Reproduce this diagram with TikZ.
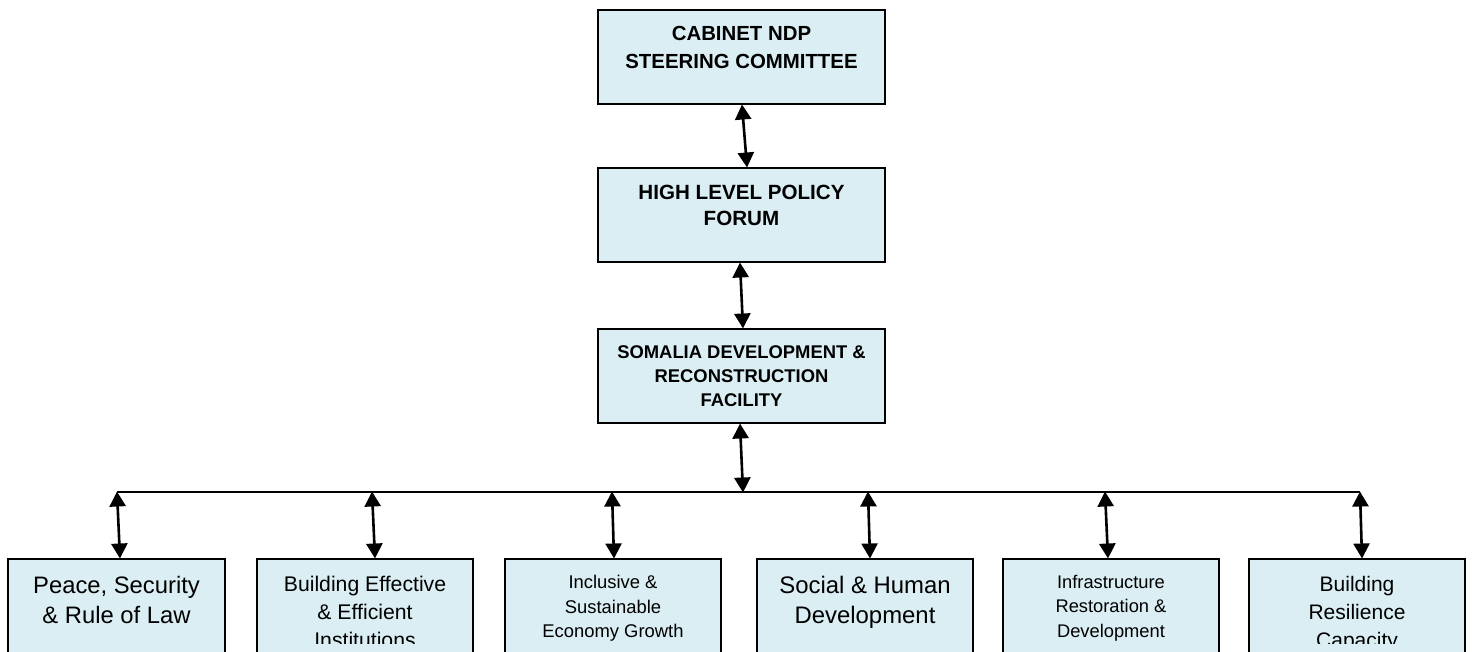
\documentclass[tikz,border=0pt]{standalone}
\usepackage{fontspec}
\setmainfont{Liberation Sans}
\usetikzlibrary{arrows.meta}
\definecolor{boxfill}{HTML}{DAEEF3}
\tikzset{
  box/.style={draw=black, line width=2pt, fill=boxfill, inner sep=0pt},
  lbl/.style={anchor=north, align=center, inner sep=0pt, text=black},
  arr/.style={line width=2.6pt, {Triangle[width=16pt,length=15pt]}-{Triangle[width=16pt,length=15pt]}, shorten <=-0.5pt, shorten >=-0.5pt},
  bus/.style={line width=2pt},
}
\begin{document}
\begin{tikzpicture}[x=1pt,y=-1pt]
\useasboundingbox (0,0) rectangle (1472,651);
\clip (0,0) rectangle (1472,651);
% top boxes
\node[box, minimum width=287pt, minimum height=94pt] (c) at (741.5,57) {};
\node[box, minimum width=287pt, minimum height=94pt] (h) at (741.5,215) {};
\node[box, minimum width=287pt, minimum height=94pt] (s) at (741.5,376) {};
\node[lbl, font=\fontsize{20.4}{28}\selectfont\bfseries] (tc) at (741.5,26) {CABINET NDP\\STEERING COMMITTEE};
\node[lbl, font=\fontsize{20.6}{26}\selectfont\bfseries] (th) at (741.5,185) {HIGH LEVEL POLICY\\FORUM};
\node[lbl, font=\fontsize{18.4}{24}\selectfont\bfseries] (ts) at (741.5,345) {SOMALIA DEVELOPMENT \&\\RECONSTRUCTION\\FACILITY};
% bottom boxes
\node[box, minimum width=217pt, minimum height=130pt] (b1) at (116.5,624) {};
\node[box, minimum width=216pt, minimum height=130pt] (b2) at (365,624) {};
\node[box, minimum width=216pt, minimum height=130pt] (b3) at (613,624) {};
\node[box, minimum width=216pt, minimum height=130pt] (b4) at (865,624) {};
\node[box, minimum width=216pt, minimum height=130pt] (b5) at (1111,624) {};
\node[box, minimum width=216pt, minimum height=130pt] (b6) at (1357,624) {};
\begin{scope}
\clip (0,0) rectangle (1472,643);
\node[lbl, font=\fontsize{23.8}{30}\selectfont] (t1) at (116.5,576) {Peace, Security\\\& Rule of Law};
\node[lbl, font=\fontsize{21.2}{28}\selectfont] (t2) at (365,576) {Building Effective\\\& Efficient\\Institutions};
\node[lbl, font=\fontsize{18.4}{24.5}\selectfont] (t3) at (613,575) {Inclusive \&\\Sustainable\\Economy Growth};
\node[lbl, font=\fontsize{23.9}{30}\selectfont] (t4) at (865,576) {Social \& Human\\Development};
\node[lbl, font=\fontsize{18.3}{24.5}\selectfont] (t5) at (1111,575) {Infrastructure\\Restoration \&\\Development};
\node[lbl, font=\fontsize{21}{28}\selectfont] (t6) at (1357,576) {Building\\Resilience\\Capacity};
\end{scope}
% bus
\coordinate (bl) at (117,492);
\coordinate (br) at (1360,492);
\coordinate (bm) at (743,492);
\coordinate (j2) at (372,492);
\coordinate (j3) at (612,492);
\coordinate (j4) at (868,492);
\coordinate (j5) at (1105,492);
\draw[bus] (bl) -- (br);
% arrows
\draw[arr] ([xshift=0.5pt]c.south) -- ([xshift=5.5pt]h.north);
\draw[arr] ([xshift=-1.5pt]h.south) -- ([xshift=1.5pt]s.north);
\draw[arr] ([xshift=-1.5pt]s.south) -- (bm);
\draw[arr] (bl) -- ([xshift=3.5pt]b1.north);
\draw[arr] (j2) -- ([xshift=10pt]b2.north);
\draw[arr] (j3) -- ([xshift=1pt]b3.north);
\draw[arr] (j4) -- ([xshift=5pt]b4.north);
\draw[arr] (j5) -- ([xshift=-3pt]b5.north);
\draw[arr] (br) -- ([xshift=5pt]b6.north);
\end{tikzpicture}
\end{document}
